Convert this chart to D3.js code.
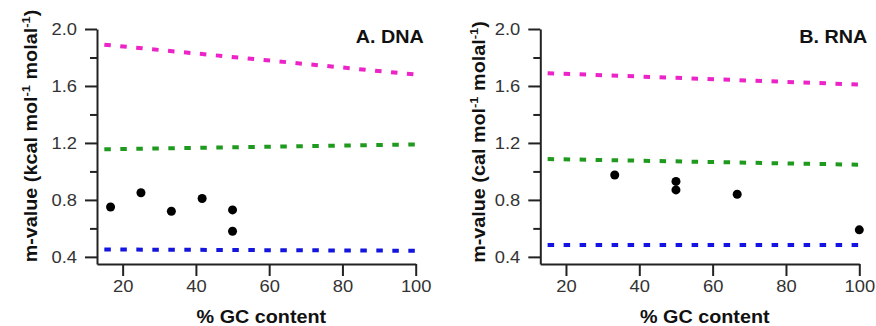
<!DOCTYPE html>
<html>
<head>
<meta charset="utf-8">
<script src="https://cdn.jsdelivr.net/npm/d3@7"></script>
<style>
  body { margin: 0; background: #fff; }
  svg { display: block; font-family: "Liberation Sans", Arial, sans-serif; }
</style>
</head>
<body>
<div id="chart"></div>
<script>
var width = 876;
var height = 326;

// axis ticks
var gcTicks = [20, 40, 60, 80, 100];
var mTicks = [0.4, 0.8, 1.2, 1.6, 2.0];
var mMinor = [0.6, 1.0, 1.4, 1.8];

// A. DNA
var dnaGC = [16.7, 25, 33.3, 41.7, 50, 50];
var dnaM = [0.75, 0.85, 0.72, 0.81, 0.73, 0.58];
var dnaLineGC = [15, 100];
var dnaUpper = [1.89, 1.68];
var dnaMiddle = [1.155, 1.19];
var dnaLower = [0.452, 0.443];

// B. RNA
var rnaGC = [33.3, 50, 50, 66.7, 100];
var rnaM = [0.975, 0.93, 0.87, 0.84, 0.59];
var rnaLineGC = [15, 100];
var rnaUpper = [1.69, 1.61];
var rnaMiddle = [1.087, 1.047];
var rnaLower = [0.483, 0.483];

var lineColors = ["#ec24c8", "#1f9a1f", "#1414e0"];
var tickStretch = 1.08; // glyphs in the source are a bit wider than Arial
var labelStretch = 1.13;

var svg = d3.select("#chart").append("svg")
    .attr("width", width)
    .attr("height", height);

function drawPanel(opt) {
    var x = d3.scaleLinear().domain([13, 100]).range([opt.left, opt.right]);
    var y = d3.scaleLinear().domain([0.35, 2.0]).range([264, 29]);

    var g = svg.append("g");

    // dashed lines
    var series = [opt.upper, opt.middle, opt.lower];
    var line = d3.line()
        .x(function (d) { return x(d[0]); })
        .y(function (d) { return y(d[1]); });
    series.forEach(function (s, i) {
        var pts = opt.lineGC.map(function (v, j) { return [v, s[j]]; });
        g.append("path")
            .attr("d", line(pts))
            .attr("fill", "none")
            .attr("stroke", lineColors[i])
            .attr("stroke-width", 4)
            .attr("stroke-dasharray", "6.5,9.5");
    });

    // points
    g.selectAll("circle.pt")
        .data(opt.gc.map(function (v, i) { return [v, opt.m[i]]; }))
        .enter().append("circle")
        .attr("class", "pt")
        .attr("cx", function (d) { return x(d[0]); })
        .attr("cy", function (d) { return y(d[1]); })
        .attr("r", 4.5)
        .attr("fill", "#000");

    // y axis
    var yAxis = g.append("g")
        .attr("transform", "translate(" + opt.left + ",0)")
        .call(d3.axisLeft(y).tickValues(mTicks).tickSizeInner(12).tickSizeOuter(0)
            .tickPadding(8).tickFormat(d3.format(".1f")));
    g.append("g")
        .attr("transform", "translate(" + opt.left + ",0)")
        .call(d3.axisLeft(y).tickValues(mMinor).tickSizeInner(7).tickSizeOuter(0).tickFormat(""))
        .select(".domain").remove();

    // x axis
    var xAxis = g.append("g")
        .attr("transform", "translate(0,264)")
        .call(d3.axisBottom(x).tickValues(gcTicks).tickSizeInner(12).tickSizeOuter(0).tickPadding(4));

    g.selectAll(".domain, .tick line")
        .attr("stroke", "#222")
        .attr("stroke-width", 2);

    yAxis.selectAll("text")
        .attr("x", function () { return +d3.select(this).attr("x") / tickStretch; })
        .attr("transform", "scale(" + tickStretch + ",1)");
    xAxis.selectAll("text")
        .attr("transform", "scale(" + tickStretch + ",1)");
    g.selectAll(".tick text")
        .attr("font-size", 17)
        .attr("font-family", "Liberation Sans, Arial, sans-serif")
        .attr("fill", "#333");

    // panel title
    g.append("text")
        .attr("transform", "translate(" + (opt.right + 8) + ",43) scale(" + labelStretch + ",1)")
        .attr("text-anchor", "end")
        .attr("font-size", 17.5)
        .attr("font-weight", "bold")
        .attr("fill", "#111")
        .text(opt.title);

    // x label
    g.append("text")
        .attr("transform", "translate(" + ((opt.left + opt.right) / 2 + 5) + ",323) scale(" + labelStretch + ",1)")
        .attr("text-anchor", "middle")
        .attr("font-size", 17.5)
        .attr("font-weight", "bold")
        .attr("fill", "#111")
        .text("% GC content");

    // y label with superscripts
    var yl = g.append("text")
        .attr("transform", "translate(" + opt.labelX + "," + opt.labelY + ") rotate(-90) scale(" + labelStretch + ",1)")
        .attr("text-anchor", "middle")
        .attr("font-size", 17.5)
        .attr("font-weight", "bold")
        .attr("fill", "#111");
    yl.append("tspan").text("m-value (" + opt.unit + " mol");
    yl.append("tspan").attr("dy", -7).attr("font-size", 11.5).text("-1");
    yl.append("tspan").attr("dy", 7).text(" molal");
    yl.append("tspan").attr("dy", -7).attr("font-size", 11.5).text("-1");
    yl.append("tspan").attr("dy", 7).text(")");
}

drawPanel({
    left: 97, right: 415.7,
    gc: dnaGC, m: dnaM, lineGC: dnaLineGC,
    upper: dnaUpper, middle: dnaMiddle, lower: dnaLower,
    title: "A. DNA", unit: "kcal", labelX: 37, labelY: 136
});

drawPanel({
    left: 540.3, right: 859.3,
    gc: rnaGC, m: rnaM, lineGC: rnaLineGC,
    upper: rnaUpper, middle: rnaMiddle, lower: rnaLower,
    title: "B. RNA", unit: "cal", labelX: 485, labelY: 142
});
</script>
</body>
</html>
